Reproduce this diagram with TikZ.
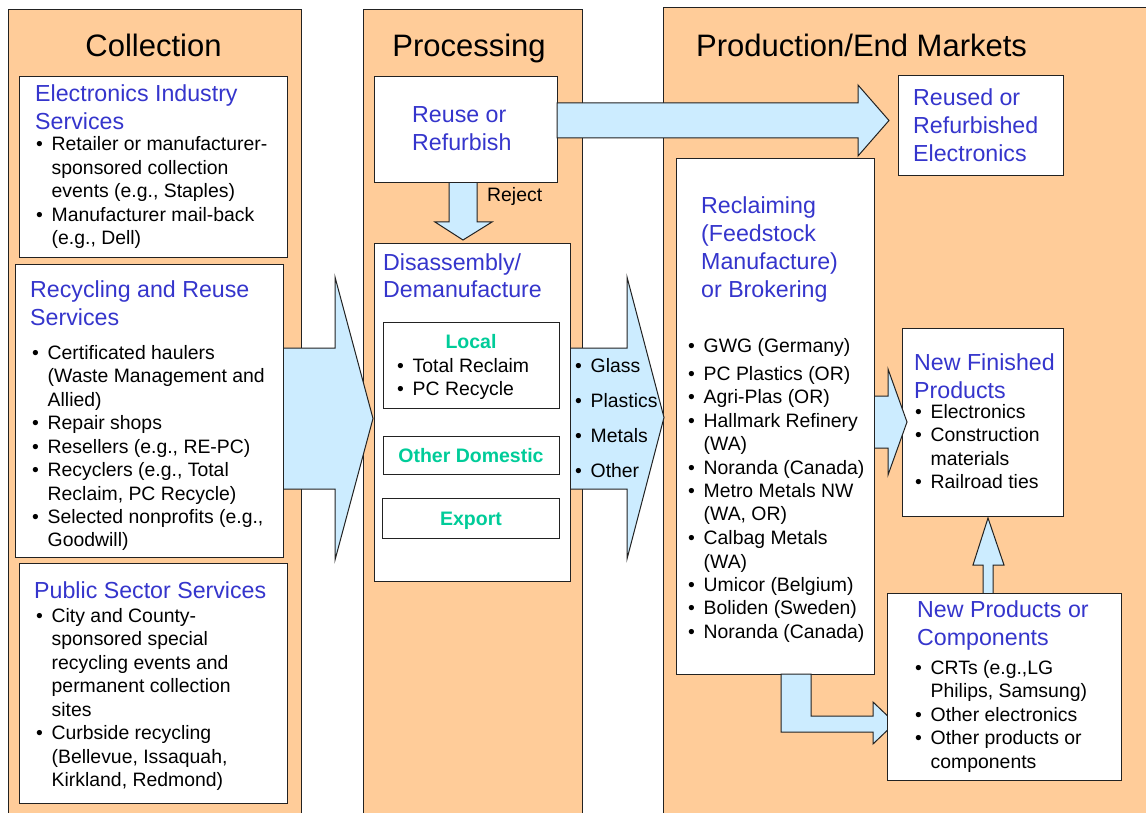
\documentclass[tikz,border=0pt]{standalone}
\usepackage{fontspec}
\setmainfont{Liberation Sans}
\definecolor{orng}{HTML}{FFCC99}
\definecolor{arrowC}{HTML}{CCECFF}
\definecolor{blueC}{HTML}{3535CC}
\definecolor{greenC}{HTML}{00CC99}
\definecolor{lineC}{HTML}{222222}
\newcommand\fhead{\fontsize{31}{36}\selectfont}
\newcommand\ftitle{\fontsize{23.2}{28}\selectfont}
\newcommand\fbody{\fontsize{19.4}{23.5}\selectfont}
\newcommand\fgreen{\fontsize{19.5}{23.5}\selectfont\bfseries}
\newcommand\bul{\makebox[15.5pt][l]{\textbullet}}
\newcommand\indt{\hspace*{15.5pt}}
\newcommand\lines[1]{\begin{tabular}[t]{@{}l@{}}#1\end{tabular}}
\begin{document}
\begin{tikzpicture}[x=1pt,y=-1pt,
  col/.style={draw=lineC, fill=orng, line width=1.2pt, inner sep=0, anchor=north west},
  box/.style={draw=lineC, fill=white, line width=1.2pt, inner sep=0, anchor=north west},
  barrow/.style={draw=lineC, fill=arrowC, line width=1pt, line join=miter},
  head/.style={anchor=base, inner sep=0, font=\fhead},
  ttl/.style={anchor=base west, inner sep=0, text=blueC, font=\ftitle},
  bod/.style={anchor=base west, inner sep=0, font=\fbody},
  grn/.style={anchor=base, inner sep=0, text=greenC, font=\fgreen}]
\useasboundingbox (0,0) rectangle (1146,813);
\clip (0,0) rectangle (1146,813);
\fill[white] (0,0) rectangle (1146,813);

% columns
\node[col, minimum width=293.5pt, minimum height=820pt] (colA) at (7.5,9) {};
\node[col, minimum width=219pt, minimum height=820pt] (colB) at (363,9) {};
\node[col, minimum width=500pt, minimum height=820pt] (colC) at (663,7) {};

\node[head] (hA) at (153.5,57) {Collection};
\node[head] (hB) at (469,57) {Processing};
\node[head, anchor=base west] (hC) at (696,57) {Production/End Markets};

% collection -> processing arrow
\draw[barrow] (283,348) -- (335,348) -- (335,277) -- (373,418.5) -- (335,560) -- (335,489) -- (283,489) -- cycle;

% Collection boxes
\node[box, minimum width=268pt, minimum height=181pt] (eis) at (19,76) {};
\node[ttl] (eisT) at (35,102) {\lines{Electronics Industry\\Services}};
\node[bod] (eisB) at (36,151) {\lines{\bul Retailer or manufacturer-\\\indt sponsored collection\\\indt events (e.g., Staples)\\\bul Manufacturer mail-back\\\indt (e.g., Dell)}};

\node[box, minimum width=268pt, minimum height=293pt] (rrs) at (15,264) {};
\node[ttl] (rrsT) at (30,298) {\lines{Recycling and Reuse\\Services}};
\node[bod] (rrsB) at (32,359) {\lines{\bul Certificated haulers\\\indt (Waste Management and\\\indt Allied)\\\bul Repair shops\\\bul Resellers (e.g., RE-PC)\\\bul Recyclers (e.g., Total\\\indt Reclaim, PC Recycle)\\\bul Selected nonprofits (e.g.,\\\indt Goodwill)}};

\node[box, minimum width=268pt, minimum height=240pt] (pss) at (19,563) {};
\node[ttl] (pssT) at (34,598) {Public Sector Services};
\node[bod] (pssB) at (36,622) {\lines{\bul City and County-\\\indt sponsored special\\\indt recycling events and\\\indt permanent collection\\\indt sites\\\bul Curbside recycling\\\indt (Bellevue, Issaquah,\\\indt Kirkland, Redmond)}};

% Processing
\draw[barrow] (449,182) -- (449,222) -- (435,222) -- (463,240) -- (492,222) -- (477,222) -- (477,182) -- cycle;
\node[box, minimum width=183pt, minimum height=106pt] (reuse) at (374,76) {};
\node[ttl] (reuseT) at (412,123) {\lines{Reuse or\\Refurbish}};
\node[bod] (rej) at (487,202) {Reject};

\draw[barrow] (570,348) -- (627,348) -- (627,277) -- (664,417.5) -- (627,559) -- (627,489) -- (570,489) -- cycle;
\node[bod] (mats) at (575,372) {\lines{\bul Glass\\[11.5pt]\bul Plastics\\[11.5pt]\bul Metals\\[11.5pt]\bul Other}};

\node[box, minimum width=196pt, minimum height=338pt] (dis) at (374,243) {};
\node[ttl] (disT) at (383,270) {\lines{Disassembly/\\Demanufacture}};
\node[box, minimum width=176pt, minimum height=86pt] (loc) at (383,322) {};
\node[grn] (locT) at (471,348) {Local};
\node[bod] (locB) at (397,372) {\lines{\bul Total Reclaim\\\bul PC Recycle}};
\node[box, minimum width=176pt, minimum height=38pt] (odom) at (383,436) {};
\node[grn] (odomT) at (471,462) {Other Domestic};
\node[box, minimum width=177pt, minimum height=40pt] (exp) at (382,498) {};
\node[grn] (expT) at (471,525) {Export};

% Production / End markets
\draw[barrow] (557,103) -- (858,103) -- (858,85) -- (889,120.5) -- (858,156) -- (858,138) -- (557,138) -- cycle;
\node[box, minimum width=165pt, minimum height=100pt] (rfe) at (898,75) {};
\node[ttl] (rfeT) at (913,106) {\lines{Reused or\\Refurbished\\Electronics}};

\node[box, minimum width=161pt, minimum height=188pt] (nfp) at (902,328) {};
\draw[barrow] (874,396) -- (888,396) -- (888,369) -- (907,422) -- (888,475) -- (888,448) -- (874,448) -- cycle;
\node[ttl] (nfpT) at (914,370) {\lines{New Finished\\Products}};
\node[bod] (nfpB) at (915,418) {\lines{\bul Electronics\\\bul Construction\\\indt materials\\\bul Railroad ties}};

\node[box, minimum width=198pt, minimum height=516pt] (rec) at (676,158) {};
\node[ttl] (recT) at (701,214) {\lines{Reclaiming\\(Feedstock\\Manufacture)\\or Brokering}};
\node[bod] (recB) at (688,352) {\lines{\bul GWG (Germany)\\[4.5pt]\bul PC Plastics (OR)\\\bul Agri-Plas (OR)\\\bul Hallmark Refinery\\\indt (WA)\\\bul Noranda (Canada)\\\bul Metro Metals NW\\\indt (WA, OR)\\\bul Calbag Metals\\\indt (WA)\\\bul Umicor (Belgium)\\\bul Boliden (Sweden)\\\bul Noranda (Canada)}};

\draw[barrow] (983,594) -- (983,565) -- (973,565) -- (988,518) -- (1004,565) -- (993,565) -- (993,594) -- cycle;
\draw[barrow] (781,674) -- (781,732) -- (873,732) -- (873,744) -- (895,723) -- (873,702) -- (873,716) -- (811,716) -- (811,674) -- cycle;
\node[box, minimum width=234pt, minimum height=187pt] (npc) at (887,593) {};
\node[ttl] (npcT) at (917,617) {\lines{New Products or\\Components}};
\node[bod] (npcB) at (915,674) {\lines{\bul CRTs (e.g.,LG\\\indt Philips, Samsung)\\\bul Other electronics\\\bul Other products or\\\indt components}};
\end{tikzpicture}
\end{document}
